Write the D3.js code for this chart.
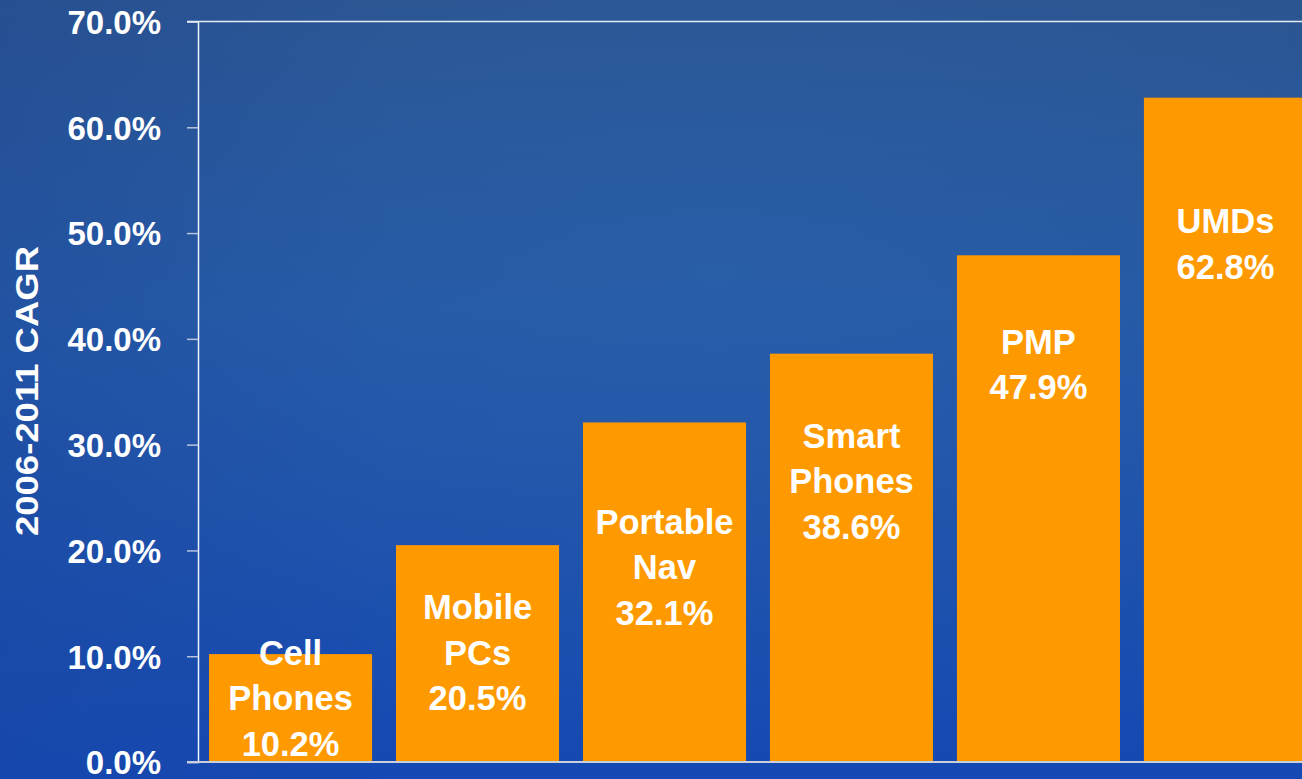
<!DOCTYPE html>
<html>
<head>
<meta charset="utf-8">
<script src="https://cdn.jsdelivr.net/npm/d3@7"></script>
<style>
html,body{margin:0;padding:0;overflow:hidden;background:#1f4ea3;}
svg{display:block;}
text{font-family:"Liberation Sans",Arial,sans-serif;font-weight:bold;fill:#fff;}
</style>
</head>
<body>
<svg id="chart" width="1302" height="779"></svg>
<script>
// ---- data ----
const categories = ["Cell Phones", "Mobile PCs", "Portable Nav", "Smart Phones", "PMP", "UMDs"];
const cagr = [10.2, 20.5, 32.1, 38.6, 47.9, 62.8];
const labelLines = [["Cell", "Phones"], ["Mobile", "PCs"], ["Portable", "Nav"], ["Smart", "Phones"], ["PMP"], ["UMDs"]];
const labelAnchor = [9.17, 13.5, 21.6, 29.7, 38.6, 50.0]; // first-line baseline, in % units
const yTicks = [0, 10, 20, 30, 40, 50, 60, 70];
const yTitle = "2006-2011 CAGR";

const W = 1302, H = 779;
const svg = d3.select("#chart");

// background gradient
const defs = svg.append("defs");
const g1 = defs.append("linearGradient").attr("id","bg").attr("x1","0").attr("y1","0").attr("x2","0").attr("y2","1");
g1.append("stop").attr("offset","0").attr("stop-color","#2b5590");
g1.append("stop").attr("offset","0.4").attr("stop-color","#2559a6");
g1.append("stop").attr("offset","1").attr("stop-color","#1549b3");
const g2 = defs.append("radialGradient").attr("id","glow").attr("cx","0.55").attr("cy","0.35").attr("r","0.6");
g2.append("stop").attr("offset","0").attr("stop-color","#2f66b0").attr("stop-opacity",0.35);
g2.append("stop").attr("offset","1").attr("stop-color","#2f66b0").attr("stop-opacity",0);
const g3 = defs.append("linearGradient").attr("id","leftshade").attr("x1","0").attr("y1","0").attr("x2","1").attr("y2","0");
g3.append("stop").attr("offset","0").attr("stop-color","#1a3f95").attr("stop-opacity",0.25);
g3.append("stop").attr("offset","0.3").attr("stop-color","#1a3f95").attr("stop-opacity",0);
svg.append("rect").attr("width",W).attr("height",H).attr("fill","url(#bg)");
svg.append("rect").attr("width",W).attr("height",H).attr("fill","url(#glow)");
svg.append("rect").attr("width",W).attr("height",H).attr("fill","url(#leftshade)");

const x0 = 198, yTop = 21.5, yBot = 762;
const x = d3.scaleBand().domain(categories).range([x0, 1318]).paddingInner(0.128).paddingOuter(0.059);
const y = d3.scaleLinear().domain([0, 70]).range([yBot, yTop]);

// bars
svg.append("g").selectAll("rect").data(categories).join("rect")
  .attr("x", d => x(d))
  .attr("y", (d,i) => y(cagr[i]))
  .attr("width", x.bandwidth())
  .attr("height", (d,i) => y(0) - y(cagr[i]))
  .attr("fill", "#ff9900");

// y axis
const yAxis = d3.axisLeft(y).tickValues(yTicks).tickFormat(d => d.toFixed(1) + "%").tickSize(11).tickPadding(26);
const ag = svg.append("g").attr("transform", `translate(${x0},0)`).call(yAxis);
ag.select(".domain").attr("stroke","#f0f4ff").attr("stroke-width",1.5);
ag.selectAll(".tick line").attr("stroke","#b8c4dc").attr("stroke-width",1.5);
ag.selectAll(".tick text").attr("fill","#fff").style("font-size","33px")
  .style("font-family",'"Liberation Sans",Arial,sans-serif').style("font-weight","bold").attr("dy","0.36em");

// top line and baseline
svg.append("line").attr("x1",187).attr("x2",W).attr("y1",y(70)).attr("y2",y(70)).attr("stroke","#e6ecf6").attr("stroke-width",1.5);
svg.append("line").attr("x1",187).attr("x2",W).attr("y1",y(0)).attr("y2",y(0)).attr("stroke","#c9cfdc").attr("stroke-width",2);

// bar labels
const lab = svg.append("g");
categories.forEach((c,i) => {
  const lines = labelLines[i].concat([cagr[i].toFixed(1) + "%"]);
  const t = lab.append("text").attr("text-anchor","middle").style("font-size","34.5px");
  lines.forEach((ln,j) => {
    t.append("tspan").attr("x", x(c) + x.bandwidth()/2).attr("y", y(labelAnchor[i]) + j*45.5).text(ln);
  });
});

// axis title
svg.append("text").attr("transform", "translate(38,391) rotate(-90)")
  .attr("text-anchor","middle").style("font-size","32px").attr("textLength", 290).attr("lengthAdjust","spacingAndGlyphs")
  .text(yTitle);
</script>
</body>
</html>
